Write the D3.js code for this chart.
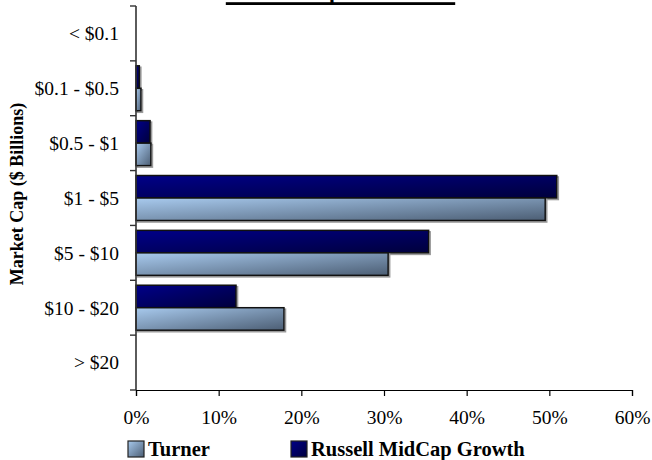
<!DOCTYPE html>
<html>
<head>
<meta charset="utf-8">
<script src="https://cdn.jsdelivr.net/npm/d3@7"></script>
<style>
  html, body { margin: 0; padding: 0; background: #fff; }
  svg { display: block; font-family: "Liberation Serif", "Times New Roman", serif; }
</style>
</head>
<body>
<svg id="chart" width="652" height="460"></svg>
<script>
// Market cap buckets, top to bottom
const categories = ["< $0.1", "$0.1 - $0.5", "$0.5 - $1", "$1 - $5", "$5 - $10", "$10 - $20", "> $20"];
// Percent of portfolio / index in each bucket
const turner = [0, 0.6, 1.8, 49.5, 30.5, 17.9, 0];
const russell = [0, 0.4, 1.7, 50.9, 35.4, 12.1, 0];
const xTicks = [0, 10, 20, 30, 40, 50, 60];
const seriesNames = ["Russell MidCap Growth", "Turner"];

const svg = d3.select("#chart");

const x = d3.scaleLinear().domain([0, 60]).range([136, 632]);
const y = d3.scaleBand().domain(categories).range([6, 390]).padding(0);
const ySub = d3.scaleBand().domain(seriesNames).range([0, y.bandwidth()])
  .paddingInner(0).paddingOuter(0.22);

// Gradients
const defs = svg.append("defs");
function grad(id, c0, c1) {
  const g = defs.append("linearGradient").attr("id", id)
    .attr("x1", 0).attr("y1", 0).attr("x2", 1).attr("y2", 1);
  g.append("stop").attr("offset", "0%").attr("stop-color", c0);
  g.append("stop").attr("offset", "100%").attr("stop-color", c1);
}
grad("gTurner", "#a8caee", "#4c5e74");
grad("gRussell", "#000088", "#00003c");

const series = [
  { name: "Russell MidCap Growth", values: russell, fill: "url(#gRussell)" },
  { name: "Turner", values: turner, fill: "url(#gTurner)" }
];

// Title sits at the very top edge, underlined
const title = svg.append("text")
  .attr("x", 340.5).attr("y", 0)
  .attr("text-anchor", "middle")
  .attr("font-weight", "bold").attr("font-size", 22)
  .text("Market Cap Breakdown");
const tb = title.node().getBBox();
svg.append("rect")
  .attr("x", tb.x).attr("y", 2.2)
  .attr("width", tb.width).attr("height", 2.8)
  .attr("fill", "#000");

// Bars with a soft drop shadow
const barG = svg.append("g");
series.forEach(s => {
  const data = categories.map((c, i) => ({ c, v: s.values[i] })).filter(d => d.v > 0);
  const g = barG.append("g");
  g.selectAll("rect.shadow").data(data).join("rect")
    .attr("class", "shadow")
    .attr("x", x(0) + 1.5)
    .attr("y", d => y(d.c) + ySub(s.name) + 1.5)
    .attr("width", d => x(d.v) - x(0))
    .attr("height", ySub.bandwidth())
    .attr("fill", "none")
    .attr("stroke", "#9a9a9a").attr("stroke-width", 1.6);
  g.selectAll("rect.bar").data(data).join("rect")
    .attr("class", "bar")
    .attr("x", x(0))
    .attr("y", d => y(d.c) + ySub(s.name))
    .attr("width", d => x(d.v) - x(0))
    .attr("height", ySub.bandwidth())
    .attr("fill", s.fill)
    .attr("stroke", "#111").attr("stroke-width", 1.5);
});

// X axis
const xAxis = svg.append("g").attr("transform", "translate(0,390)")
  .call(d3.axisBottom(x).tickValues(xTicks).tickFormat(d => d + "%").tickSizeOuter(0).tickSize(6).tickPadding(14));
xAxis.select(".domain").attr("stroke", "#000").attr("stroke-width", 1.2);
xAxis.selectAll(".tick line").attr("stroke", "#000").attr("stroke-width", 1.2);
xAxis.selectAll(".tick text").attr("font-size", 19.5).attr("fill", "#000")
  .attr("font-family", "'Liberation Serif', 'Times New Roman', serif");

// Y axis with ticks at band boundaries
const yAxisG = svg.append("g");
yAxisG.append("line").attr("x1", 136).attr("x2", 136).attr("y1", 6).attr("y2", 390)
  .attr("stroke", "#333").attr("stroke-width", 1.6);
const boundaries = categories.map(c => y(c)).concat([y.range()[1]]);
yAxisG.selectAll("line.tick").data(boundaries).join("line")
  .attr("class", "tick")
  .attr("x1", 130).attr("x2", 136)
  .attr("y1", d => d).attr("y2", d => d)
  .attr("stroke", "#333").attr("stroke-width", 1.4);
yAxisG.selectAll("text").data(categories).join("text")
  .attr("x", 119)
  .attr("y", d => y(d) + y.bandwidth() / 2)
  .attr("dy", "0.35em")
  .attr("text-anchor", "end")
  .attr("font-size", 19.5)
  .text(d => d);

// Y axis title
svg.append("text")
  .attr("transform", "translate(23,194) rotate(-90)")
  .attr("text-anchor", "middle")
  .attr("font-weight", "bold").attr("font-size", 18)
  .text("Market Cap ($ Billions)");

// Legend
const legend = [
  { name: "Turner", fill: "url(#gTurner)", x: 128 },
  { name: "Russell MidCap Growth", fill: "url(#gRussell)", x: 291 }
];
const lg = svg.append("g");
legend.forEach(l => {
  lg.append("rect").attr("x", l.x).attr("y", 441).attr("width", 16).attr("height", 16)
    .attr("fill", l.fill).attr("stroke", "#222").attr("stroke-width", 1.2);
  lg.append("text").attr("x", l.x + 20).attr("y", 456)
    .attr("font-weight", "bold").attr("font-size", 20.5)
    .text(l.name);
});
</script>
</body>
</html>
